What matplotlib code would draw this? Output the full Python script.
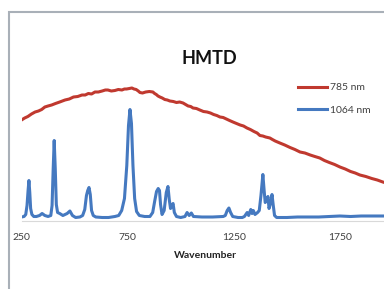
import matplotlib
matplotlib.use("Agg")
import matplotlib.pyplot as plt
from matplotlib.patches import Rectangle

# ---- data ----
wn_1064 = [250, 262, 270, 276, 281, 285, 289, 293, 299, 308, 320, 335, 347, 360, 375,
           388, 394, 399, 404, 409, 414, 420, 430, 445, 465, 478, 490, 505, 525,
           538, 548, 556, 562, 568, 574, 580, 588, 600, 630, 660, 690,
           708, 722, 735, 746, 754, 761, 768, 775, 783, 792, 805, 830,
           855, 868, 878, 886, 894, 900, 905, 912, 922, 932, 940, 946, 952, 958, 964, 970, 980, 1000,
           1020, 1030, 1040, 1050, 1060, 1100, 1150, 1200,
           1210, 1219, 1227, 1235, 1245, 1270, 1290,
           1300, 1313, 1320, 1330, 1336, 1342, 1350, 1362,
           1370, 1378, 1387, 1393, 1398, 1405, 1411, 1416, 1424, 1430, 1436, 1442, 1452,
           1500, 1550, 1600, 1650, 1700, 1750, 1800, 1850, 1900, 1960]
int_1064 = [3.5, 4, 6, 15, 30, 40, 28, 12, 6, 4, 4, 5, 7, 5, 4,
            5, 15, 50, 80, 52, 16, 8, 7, 5, 7, 9.5, 5, 3, 3.5,
            5, 11, 25, 30, 33, 26, 10, 5, 3.5, 3, 3, 4,
            5, 10, 22, 55, 95, 111, 97, 55, 22, 9, 5, 4,
            4, 8, 20, 29, 32, 30, 16, 6, 10, 28, 34, 21, 12, 15, 17, 8, 4, 3,
            4, 8, 5, 7.5, 4, 3.5, 3.5, 4,
            5, 10, 12.5, 8, 4, 3, 3,
            4, 8, 5, 11, 7, 10, 6, 8,
            10, 25, 46, 30, 18, 20, 24, 12, 18, 26, 15, 5, 3,
            3, 3.5, 3.5, 3.5, 4, 4.5, 4, 4.5, 4.5, 4.5]

wn_785 = [250, 265, 280, 297, 314, 330, 345, 360, 375, 392, 410, 430, 455, 475,
          495, 515, 535, 550, 565, 580, 596, 612, 630, 645, 657, 673, 690, 706,
          723, 735, 745, 758, 770, 780, 790, 800, 808, 820, 835, 852, 869, 877,
          885, 893, 902, 913, 925, 937, 949, 965, 980, 995, 1011, 1023,
          1035, 1047, 1058, 1074, 1090, 1107, 1124, 1140, 1155, 1170, 1185, 1200,
          1215, 1230, 1246, 1263, 1280, 1296, 1312, 1328, 1345, 1360,
          1373, 1387, 1400, 1410, 1420, 1432, 1445, 1456, 1467, 1490, 1515, 1538,
          1562, 1585, 1610, 1632, 1655, 1677, 1700, 1725, 1750,
          1775, 1800, 1822, 1844, 1872, 1900, 1926, 1952, 1990]
int_785 = [100.5, 102.5, 104, 106.5, 108.5, 109.5, 111, 113.5, 114.5, 115.5, 117, 118.5, 120.5, 121.5,
           123.5, 124, 125.5, 125.5, 127, 126.5, 128.5, 128.5, 129.5, 130.5, 130.5, 129.5, 130, 131,
           130.5, 131.5, 131.5, 132, 132.5, 131.5, 131, 129.5, 128, 127.5, 128.5, 129, 128.5, 127,
           126, 124.5, 123.5, 122.5, 121, 120.5, 119.5, 119, 118, 118.5, 117.5, 116,
           114.5, 114, 112.5, 112, 110.5, 109, 108.5, 107.5, 106, 105, 103.5, 103,
           101.5, 100, 98.5, 97, 95.5, 94.5, 92.5, 91, 89, 87.5,
           85, 84.5, 83.5, 83, 82.5, 81, 79.5, 78.5, 77.5, 75.5, 73, 71,
           68.5, 67.5, 65.5, 64, 62.5, 60, 58, 56, 53.5,
           51.5, 49, 47.5, 45.5, 44, 42, 40.5, 38.5, 36]

xticks = [250, 750, 1250, 1750]
series_labels = ["785 nm", "1064 nm"]
title = "HMTD"
xlabel = "Wavenumber"

W, H = 384, 289
fig = plt.figure(figsize=(W / 100, H / 100), dpi=100)

# outer chart border (cropped at right/bottom)
fig.add_artist(Rectangle((9 / W, -0.1), 1.2, 1 - 12 / H + 0.1,
                         transform=fig.transFigure, fill=False,
                         edgecolor="#a9b0b8", linewidth=1.5))

ax_left, ax_right = 21.5, 393.0
ax_top, ax_bot = 60.5, 220.5
ax = fig.add_axes([ax_left / W, 1 - ax_bot / H, (ax_right - ax_left) / W, (ax_bot - ax_top) / H])
ax.set_xlim(250, 2000)
ax.set_ylim(0, 160)
ax.patch.set_alpha(0)

red = "#c0392f"
blue = "#4579c0"
l1, = ax.plot(wn_785, int_785, color=red, lw=2.2, solid_joinstyle="round")
l2, = ax.plot(wn_1064, int_1064, color=blue, lw=2.2, solid_joinstyle="round")

for s in ["top", "right", "left"]:
    ax.spines[s].set_visible(False)
ax.spines["bottom"].set_color("#d9d9d9")
ax.spines["bottom"].set_linewidth(0.8)
ax.set_yticks([])
ax.set_xticks(xticks)
ax.set_xticklabels([str(t) for t in xticks], fontfamily="Lato", fontsize=7.5, color="#404040")
ax.tick_params(axis="x", length=0, pad=9)

fig.text(209 / W, 1 - 58 / H, title, ha="center", va="center",
         fontfamily="Lato", fontweight="bold", fontsize=13, color="#111111")
fig.text(205 / W, 1 - 256 / H, xlabel, ha="center", va="center",
         fontfamily="Lato", fontweight="bold", fontsize=7.5, color="#222222")

leg = ax.legend([l1, l2], series_labels, loc="upper left",
                bbox_to_anchor=(298 / W, 1 - 83 / H), bbox_transform=fig.transFigure,
                frameon=False, prop={"family": "Lato", "size": 7.5},
                handlelength=2.8, handletextpad=0.25, labelspacing=1.25,
                borderpad=0, borderaxespad=0)
for t in leg.get_texts():
    t.set_color("#404040")

fig.savefig("out.png", dpi=100)
